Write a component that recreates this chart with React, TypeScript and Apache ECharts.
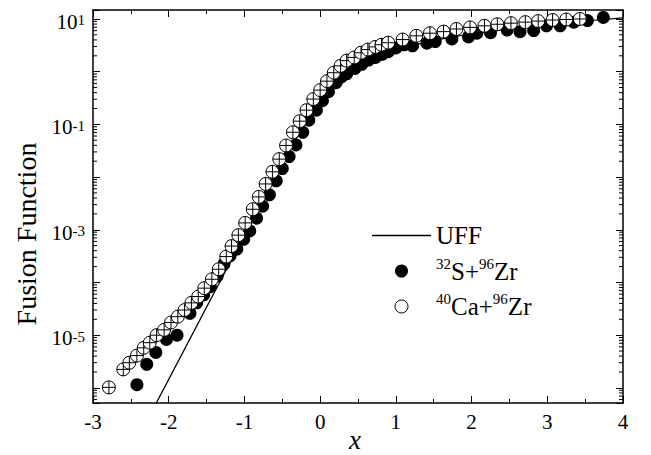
import React, { useEffect, useRef } from 'react';
import * as echarts from 'echarts';

const FONT = 'Liberation Serif';

// Universal fusion function curve
const uffX = [-2.3, -2.0, -1.5, -1.0, -0.75, -0.5, -0.25, -0.125, 0, 0.125, 0.25, 0.375, 0.5, 0.75, 1.0, 1.5, 2.0, 2.5, 3.0, 3.5, 4.0];
const uffY = [2.2e-7, 1.45e-6, 3.4e-5, 7.8e-4, 3.7e-3, 0.0178, 0.079, 0.157, 0.289, 0.484, 0.733, 1.02, 1.33, 1.97, 2.62, 3.93, 5.24, 6.55, 7.85, 9.16, 10.5];

// 32S + 96Zr (filled circles)
const s32X = [-2.42, -2.29, -2.17, -2.03, -1.89, -1.72, -1.63, -1.54, -1.45, -1.36, -1.27, -1.19, -1.10, -1.01, -0.93, -0.84, -0.76, -0.67, -0.58, -0.50, -0.41, -0.32, -0.23, -0.15, -0.05, 0.03, 0.11, 0.21, 0.28, 0.35, 0.46, 0.55, 0.64, 0.73, 0.82, 0.90, 1.00, 1.11, 1.22, 1.41, 1.52, 1.74, 1.96, 2.07, 2.25, 2.47, 2.64, 2.82, 2.99, 3.17, 3.35, 3.53, 3.74];
const s32Y = [1.15e-6, 2.8e-6, 4.7e-6, 8.3e-6, 1.0e-5, 2.6e-5, 4.1e-5, 5.8e-5, 8.3e-5, 1.32e-4, 2.24e-4, 3.2e-4, 4.3e-4, 6.6e-4, 9.5e-4, 1.66e-3, 2.8e-3, 4.6e-3, 8.5e-3, 0.0145, 0.0245, 0.0407, 0.0708, 0.120, 0.186, 0.282, 0.417, 0.617, 0.794, 0.912, 1.15, 1.38, 1.66, 1.86, 2.14, 2.40, 2.82, 3.24, 3.09, 3.47, 3.72, 4.17, 4.57, 5.37, 5.50, 6.17, 5.75, 6.03, 7.41, 7.41, 8.71, 9.33, 10.7];

// 40Ca + 96Zr (open circles)
const ca40X = [-2.79, -2.60, -2.52, -2.42, -2.33, -2.25, -2.16, -2.06, -1.97, -1.88, -1.79, -1.70, -1.61, -1.53, -1.43, -1.34, -1.24, -1.17, -1.08, -0.99, -0.89, -0.81, -0.72, -0.63, -0.54, -0.45, -0.36, -0.27, -0.18, -0.09, 0.0, 0.09, 0.18, 0.27, 0.35, 0.45, 0.54, 0.63, 0.73, 0.81, 0.90, 1.09, 1.27, 1.45, 1.63, 1.80, 1.98, 2.17, 2.34, 2.52, 2.71, 2.88, 3.07, 3.25, 3.43];
const ca40Y = [1.02e-6, 2.24e-6, 3.0e-6, 4.1e-6, 5.75e-6, 7.2e-6, 1.0e-5, 1.26e-5, 1.74e-5, 2.24e-5, 3.0e-5, 4.1e-5, 5.4e-5, 7.8e-5, 1.15e-4, 1.78e-4, 3.1e-4, 4.9e-4, 7.9e-4, 1.35e-3, 2.45e-3, 4.2e-3, 7.4e-3, 0.0126, 0.0219, 0.0398, 0.0708, 0.115, 0.186, 0.302, 0.447, 0.661, 0.955, 1.29, 1.62, 1.86, 2.29, 2.63, 2.95, 3.24, 3.55, 4.07, 4.79, 5.37, 5.75, 6.46, 6.92, 7.41, 7.94, 8.32, 8.71, 9.12, 9.55, 9.77, 10.0];

// axis decoration
const yLabelExponents = [1, -1, -3, -5];
const yDecades = [-7, -6, -5, -4, -3, -2, -1, 0, 1];
const yMinorMultipliers = [2, 3, 4, 5, 6, 7, 8, 9];

const seriesNames = ['UFF', '32S+96Zr', '40Ca+96Zr'];
const legendLabels: Record<string, string> = {
  'UFF': '{n|UFF}',
  '32S+96Zr': '{s|32}{n|S+}{s|96}{n|Zr}',
  '40Ca+96Zr': '{s|40}{n|Ca+}{s|96}{n|Zr}',
};

const pairs = (xs: number[], ys: number[]) => xs.map((x, i) => [x, ys[i]]);

const Y_MIN = 5.16e-7;
const Y_MAX = 14.8;
const X_MIN = -3;
const X_MAX = 4;

const OPEN_CROSS = 'path://M10,0 A10,10 0 1,1 10,20 A10,10 0 1,1 10,0 Z M0,10 L20,10 M10,0 L10,20';

export default function App() {
  const ref = useRef<HTMLDivElement>(null);

  useEffect(() => {
    const chart = echarts.init(ref.current!, null, { renderer: 'svg' });

    const minorTickValues: number[][] = [];
    yDecades.forEach((d) => {
      yMinorMultipliers.forEach((m) => {
        const v = m * Math.pow(10, d);
        if (v > Y_MIN && v < Y_MAX) minorTickValues.push([X_MIN, v]);
      });
    });

    const xAxisBase = {
      type: 'value',
      min: X_MIN,
      max: X_MAX,
      interval: 1,
      splitLine: { show: false },
      axisLine: { show: true, onZero: false, lineStyle: { color: '#000', width: 1.5 } },
      axisTick: { show: true, inside: true, length: 7, lineStyle: { color: '#000', width: 1 } },
      minorTick: { show: true, splitNumber: 2, length: 4, lineStyle: { color: '#000', width: 1 } },
    };

    const yAxisBase = {
      type: 'log',
      logBase: 10,
      min: Y_MIN,
      max: Y_MAX,
      splitLine: { show: false },
      axisLine: { show: true, onZero: false, lineStyle: { color: '#000', width: 1.5 } },
      axisTick: { show: true, inside: true, length: 7, lineStyle: { color: '#000', width: 1 } },
      minorTick: { show: false },
    };

    chart.setOption({
      animation: false,
      backgroundColor: '#fff',
      textStyle: { fontFamily: FONT, color: '#000' },
      grid: { left: 93, right: 28, top: 10, bottom: 52, containLabel: false },
      xAxis: [
        {
          ...xAxisBase,
          position: 'bottom',
          axisLabel: { show: true, margin: 8, color: '#000', fontSize: 21, fontFamily: FONT },
        },
        {
          ...xAxisBase,
          position: 'top',
          axisLabel: { show: false },
        },
      ],
      yAxis: [
        {
          ...yAxisBase,
          position: 'left',
          axisLabel: {
            show: true,
            margin: 8,
            color: '#000',
            fontFamily: FONT,
            formatter: (v: number) => {
              const e = Math.log10(v);
              const n = Math.round(e);
              if (Math.abs(e - n) > 1e-6 || !yLabelExponents.includes(n)) return '';
              return `{b|10}{s|${n}}`;
            },
            rich: {
              b: { fontSize: 21, fontFamily: FONT, color: '#000', lineHeight: 24, padding: [6, 0, 0, 0] },
              s: { fontSize: 15, fontFamily: FONT, color: '#000', lineHeight: 12, verticalAlign: 'top', padding: [6, 0, 0, 0] },
            },
          },
        },
        {
          ...yAxisBase,
          position: 'right',
          axisLabel: { show: false },
        },
      ],
      legend: {
        orient: 'vertical',
        left: 367,
        top: 218,
        itemWidth: 59,
        itemHeight: 13,
        itemGap: 8,
        selectedMode: false,
        data: [
          { name: seriesNames[0], icon: 'path://M0,0L60,0L60,1.4L0,1.4Z', itemStyle: { color: '#000' } },
          { name: seriesNames[1], icon: 'circle', itemStyle: { color: '#000', opacity: 1 } },
          { name: seriesNames[2], icon: 'circle', itemStyle: { color: '#fff', borderColor: '#000', borderWidth: 1, opacity: 1 } },
        ],
        formatter: (name: string) => legendLabels[name] || name,
        textStyle: {
          color: '#000',
          fontFamily: FONT,
          rich: {
            n: { fontSize: 25, fontFamily: FONT, color: '#000', lineHeight: 30 },
            s: { fontSize: 15, fontFamily: FONT, color: '#000', lineHeight: 12, verticalAlign: 'top' },
          },
        },
      },
      graphic: [
        {
          type: 'text',
          x: 26,
          y: 234,
          rotation: Math.PI / 2,
          style: {
            text: 'Fusion Function',
            fontSize: 28,
            fontFamily: FONT,
            fill: '#000',
            align: 'center',
            verticalAlign: 'middle',
            textAlign: 'center',
            textVerticalAlign: 'middle',
          },
        },
        {
          type: 'text',
          x: 355,
          y: 440,
          style: {
            text: 'x',
            fontSize: 27,
            lineHeight: 26,
            fontStyle: 'italic',
            fontFamily: FONT,
            fill: '#000',
            align: 'center',
            verticalAlign: 'middle',
            textAlign: 'center',
            textVerticalAlign: 'middle',
          },
        },
      ],
      series: [
        {
          name: 'minorTicks',
          type: 'custom',
          xAxisIndex: 0,
          yAxisIndex: 0,
          silent: true,
          data: minorTickValues,
          renderItem: (params: any, api: any) => {
            const v = api.value(1);
            const pL = api.coord([X_MIN, v]);
            const pR = api.coord([X_MAX, v]);
            const style = { stroke: '#000', lineWidth: 1 };
            return {
              type: 'group',
              children: [
                { type: 'line', shape: { x1: pL[0], y1: pL[1], x2: pL[0] + 4, y2: pL[1] }, style },
                { type: 'line', shape: { x1: pR[0] - 4, y1: pR[1], x2: pR[0], y2: pR[1] }, style },
              ],
            };
          },
          z: 1,
        },
        {
          name: seriesNames[0],
          type: 'line',
          data: pairs(uffX, uffY),
          symbol: 'none',
          color: '#000',
          itemStyle: { color: '#000' },
          lineStyle: { color: '#000', width: 1.2 },
          clip: true,
          z: 2,
        },
        {
          name: seriesNames[1],
          type: 'scatter',
          data: pairs(s32X, s32Y),
          symbol: 'circle',
          symbolSize: 13,
          itemStyle: { color: '#000', opacity: 1 },
          z: 3,
        },
        {
          name: seriesNames[2],
          type: 'scatter',
          data: pairs(ca40X, ca40Y),
          symbol: OPEN_CROSS,
          symbolSize: 13,
          itemStyle: { color: '#fff', borderColor: '#000', borderWidth: 1, opacity: 1 },
          z: 4,
        },
      ],
    });

    return () => chart.dispose();
  }, []);

  return (
    <div
      ref={ref}
      style={{ position: 'absolute', left: 0, top: 0, width: 651, height: 455 }}
    />
  );
}
